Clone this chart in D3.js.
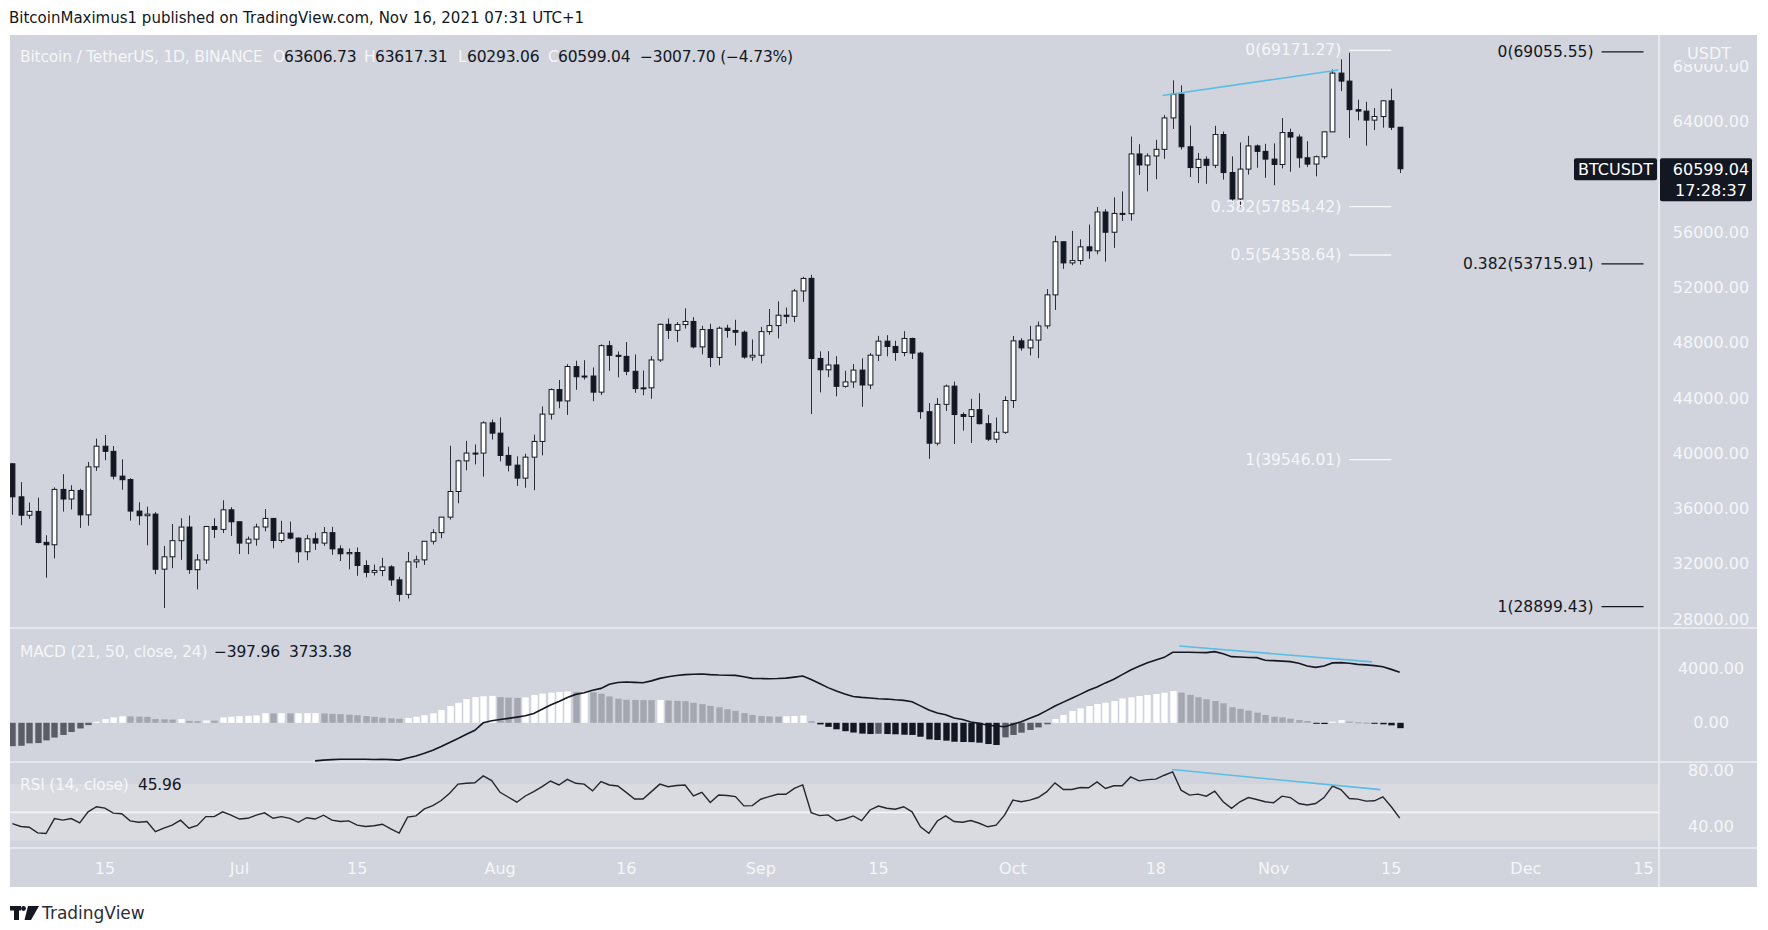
<!DOCTYPE html>
<html>
<head>
<meta charset="utf-8">
<script src="https://cdn.jsdelivr.net/npm/d3@7"></script>
<style>
html, body { margin: 0; padding: 0; background: #fff; }
svg { display: block; }
</style>
</head>
<body>
<svg id="chart" width="1768" height="930"></svg>
<script>
// ---- data (BTCUSDT 1D, Jun 4 - Nov 16 2021) ----
var days = d3.utcDay.range(new Date(Date.UTC(2021, 5, 4)), new Date(Date.UTC(2021, 10, 17)));

var opens = [
  39242, 36851, 35520, 35796, 33556, 33380, 37389, 36694, 37313, 35546,
  39020, 40516, 40143, 38349, 38099, 35820, 35484, 35601, 31614, 32509,
  33675, 34663, 31577, 32283, 34702, 34495, 35912, 35045, 33502, 33786,
  34668, 35288, 33690, 34220, 33863, 32876, 33815, 33502, 34259, 33086,
  32729, 32820, 31874, 31384, 31521, 31779, 30839, 29790, 32144, 32287,
  33635, 34261, 35381, 37237, 39456, 40019, 40018, 42207, 41461, 39850,
  39146, 38207, 39723, 40862, 42836, 44614, 43794, 46280, 45543, 45596,
  44429, 47793, 47097, 47019, 45937, 44686, 44741, 46760, 49339, 48905,
  49322, 49546, 47707, 48960, 46942, 49058, 48897, 48768, 46970, 47100,
  48810, 49247, 50000, 49918, 51756, 52666, 46868, 46048, 46396, 44851,
  45171, 46025, 44947, 47103, 48121, 47737, 47300, 48314, 47255, 43015,
  40734, 43546, 44866, 42810, 42670, 43160, 42147, 41025, 41524, 43820,
  48142, 47634, 48200, 49225, 51471, 55315, 53785, 53955, 54949, 54659,
  57471, 56006, 57370, 57347, 61672, 60876, 61528, 62006, 64280, 66001,
  62193, 60688, 61286, 60852, 63079, 60329, 58413, 60575, 62253, 61859,
  61300, 60911, 63220, 62897, 61396, 60940, 61471, 63273, 67525, 66947,
  64882, 64774, 64122, 64380, 65519, 63606.73
];
var highs = [
  39289, 37917, 36436, 36790, 34068, 37534, 38491, 37690, 37439, 39380,
  41064, 41330, 40528, 39559, 38200, 36457, 36137, 35741, 33298, 34881,
  35298, 35500, 32700, 34749, 35297, 36600, 36100, 35057, 33977, 34909,
  35967, 35293, 35118, 35059, 33913, 34100, 34262, 34666, 34679, 33340,
  33114, 33185, 32249, 31950, 32435, 31899, 31063, 32859, 32591, 33650,
  34500, 35398, 40550, 39542, 40900, 40640, 42316, 42448, 42599, 40480,
  39780, 39969, 41350, 43392, 44700, 45310, 46454, 46700, 46743, 46218,
  47886, 48144, 47372, 48053, 47160, 46000, 47033, 49382, 49757, 49500,
  50500, 49860, 49230, 49380, 49185, 49309, 49667, 48888, 48246, 49156,
  50450, 51000, 50558, 51900, 52780, 52920, 47381, 47400, 47033, 45980,
  46460, 46876, 47250, 48500, 48557, 48150, 48843, 48372, 47346, 43639,
  44000, 44978, 45200, 42966, 43950, 44350, 42787, 42590, 44132, 48495,
  48336, 49228, 49536, 51886, 55750, 55332, 56100, 55489, 56561, 57839,
  57680, 58532, 58960, 62933, 62378, 61718, 62695, 64486, 67000, 66639,
  63732, 61747, 61500, 63710, 63293, 61496, 62499, 62980, 62359, 62405,
  62437, 64270, 63500, 63086, 62595, 61560, 63286, 67789, 68524, 69000,
  65600, 65450, 64990, 65550, 66401, 63617.31
];
var lows = [
  35555, 34800, 35258, 33480, 31000, 32396, 35782, 35936, 34600, 34757,
  38730, 39506, 38116, 37365, 35129, 34803, 33336, 31251, 28805, 31683,
  32286, 31275, 30151, 32000, 33862, 34225, 34017, 32711, 32700, 33316,
  34357, 33125, 33532, 33777, 32077, 32261, 33004, 33306, 32658, 32202,
  31600, 31133, 31020, 31164, 31108, 30407, 29278, 29482, 31708, 31924,
  33401, 33851, 35205, 36383, 38772, 39200, 38313, 41000, 39422, 38690,
  37642, 37508, 37332, 39853, 42446, 43261, 42779, 44600, 45341, 43770,
  44217, 45971, 45500, 45660, 44376, 44203, 43955, 46622, 48280, 48050,
  49029, 47600, 47163, 46250, 46364, 48371, 47801, 46853, 46700, 46513,
  48584, 48316, 49400, 49500, 50969, 42843, 44412, 45513, 44132, 44752,
  44742, 43371, 44650, 46682, 47021, 46699, 47033, 46829, 42500, 39600,
  40565, 43069, 40675, 41646, 40750, 42098, 40888, 40753, 41410, 43283,
  47430, 47088, 46891, 49022, 50382, 53357, 53617, 53661, 54080, 54415,
  53879, 54870, 56818, 56850, 60150, 58963, 59844, 61322, 63481, 62000,
  60000, 59562, 59510, 60650, 59817, 58000, 57820, 60174, 60673, 59945,
  59405, 60624, 60382, 60677, 60721, 60050, 61322, 63273, 66222, 62822,
  64100, 62278, 63400, 63577, 63400, 60293.06
];
var closes = [
  36852, 35520, 35797, 33553, 33380, 37389, 36693, 37313, 35546, 39020,
  40516, 40144, 38349, 38092, 35820, 35483, 35600, 31608, 32509, 33678,
  34663, 31584, 32283, 34700, 34494, 35911, 35045, 33504, 33786, 34669,
  35287, 33690, 34220, 33862, 32875, 33815, 33502, 34259, 33086, 32729,
  32820, 31880, 31383, 31520, 31778, 30839, 29790, 32144, 32287, 33634,
  34258, 35381, 37237, 39457, 40019, 40016, 42206, 41461, 39845, 39147,
  38207, 39723, 40862, 42836, 44614, 43792, 46285, 45543, 45595, 44428,
  47793, 47096, 47019, 45936, 44686, 44741, 46760, 49339, 48905, 49321,
  49546, 47706, 48960, 46942, 49058, 48897, 48767, 46970, 47100, 48810,
  49246, 49999, 49915, 51756, 52663, 46864, 46049, 46395, 44851, 45171,
  46026, 44947, 47105, 48121, 47737, 47300, 48315, 47255, 43016, 40734,
  43543, 44865, 42810, 42670, 43160, 42147, 41026, 41524, 43824, 48141,
  47634, 48200, 49224, 51471, 55315, 53785, 53951, 54949, 54659, 57471,
  56005, 57367, 57347, 61672, 60875, 61528, 62009, 64280, 66001, 62193,
  60688, 61286, 60852, 63078, 60328, 58413, 60575, 62253, 61859, 61299,
  60911, 63219, 62896, 61395, 60937, 61470, 63273, 67525, 66947, 64882,
  64774, 64122, 64380, 65519, 63606.73, 60599.04
];

// MACD (21, 50, close, 24) line; null where it sits below the pane
var macdLine = [
  null, null, null, null, null, null, null, null, null, null,
  null, null, null, null, null, null, null, null, null, null,
  null, null, null, null, null, null, null, null, null, null,
  null, null, null, null, null, null, -2816, -2760, -2720, -2700,
  -2690, -2700, -2700, -2710, -2700, -2720, -2760, -2600, -2450, -2250,
  -2025, -1750, -1450, -1160, -850, -550, 0, 150, 250, 330,
  420, 520, 690, 1000, 1310, 1580, 1877, 2100, 2223, 2400,
  2544, 2850, 2980, 3013, 2990, 2964, 3100, 3285, 3400, 3500,
  3560, 3590, 3606, 3560, 3532, 3520, 3507, 3400, 3285, 3270,
  3260, 3270, 3300, 3380, 3458, 3200, 2900, 2600, 2350, 2124,
  1950, 1877, 1830, 1780, 1754, 1700, 1660, 1560, 1250, 950,
  720, 600, 350, 240, 60, -40, -180, -240, -287, -100,
  84, 330, 578, 900, 1245, 1530, 1813, 2100, 2400, 2650,
  2950, 3221, 3560, 3902, 4180, 4446, 4650, 4841, 5212, 5212,
  5212, 5200, 5187, 5261, 5100, 4890, 4860, 4830, 4816, 4620,
  4594, 4560, 4520, 4400, 4199, 4100, 4200, 4430, 4446, 4400,
  4322, 4280, 4224, 4150, 3950, 3733.38
];
var macdHist = [
  -1730, -1700, -1520, -1500, -1300, -1090, -900, -680, -420, -170,
  80, 270, 400, 480, 470, 460, 440, 280, 260, 240,
  270, 140, 120, 170, 160, 400, 450, 490, 520, 550,
  710, 690, 710, 695, 705, 710, 715, 690, 660, 640,
  600, 560, 500, 440, 380, 330, 300, 350, 450, 560,
  700, 950, 1240, 1480, 1750, 1900, 1960, 1990, 1900, 1860,
  1840, 1880, 2060, 2160, 2230, 2280, 2310, 2290, 2300, 2260,
  2150, 1950, 1780, 1700, 1690, 1680, 1670, 1690, 1650, 1620,
  1600, 1480, 1380, 1250, 1150, 1000, 880, 720, 580, 500,
  470, 460, 480, 500, 540, 120, -120, -300, -480, -620,
  -720, -800, -830, -810, -830, -850, -880, -900, -1030, -1225,
  -1270, -1320, -1400, -1420, -1430, -1470, -1570, -1640, -1075, -900,
  -730, -530, -340, -110, 280, 580, 875, 1070, 1240, 1390,
  1490, 1610, 1800, 1880, 1980, 2060, 2130, 2230, 2350, 2230,
  2060, 1890, 1740, 1610, 1440, 1150, 1030, 900, 750, 580,
  450, 400, 300, 200, 130, -60, -90, 85, 200, 85,
  35, 10, -60, -110, -190, -397.96
];
var rsi = [
  42, 40, 39.5, 35.5, 35, 45.6, 44.5, 45.6, 42.5, 50.4,
  54, 53, 49.5, 49, 44, 43, 43.5, 36.4, 38.8, 41,
  44.5, 38.8, 40.7, 47, 47, 50.4, 48, 45.3, 45.8, 48,
  49.7, 45.8, 47, 45.8, 43, 46.2, 45.3, 48, 44.5, 43.5,
  44, 41, 40, 40.5, 41.6, 38.3, 35.3, 46.6, 47.5, 52.5,
  54.8, 58.4, 63.6, 70, 70.6, 71, 75.8, 72.5, 64.2, 60.7,
  57.2, 61.6, 64.7, 68.2, 72.2, 69.4, 73.4, 70.6, 70, 65.2,
  71.8, 69.4, 68.7, 64.2, 59.5, 59.5, 64.7, 70, 68.2, 69,
  69.4, 61.6, 64.2, 57, 62.3, 61.9, 61.2, 54.6, 54.8, 59.3,
  61.2, 62.8, 62.8, 67, 69.4, 49.8, 47.7, 48.2, 44, 45.3,
  47.5, 44.2, 51.7, 54.5, 52.9, 52.2, 54, 50.4, 39.8, 35.2,
  43.9, 47.5, 43.5, 43, 44.2, 42.3, 39.8, 41, 48, 58.7,
  57.5, 58.7, 60.5, 64.5, 70.9, 66.2, 66.2, 67.6, 67.4, 71.6,
  66.9, 68.8, 68.8, 75.1, 72.3, 73.2, 73.5, 76.3, 78.7, 65.7,
  62.2, 62.9, 61.5, 65, 57.5, 52.8, 57.5, 60.5, 59.1, 57.5,
  56.8, 61.5, 60.5, 56.3, 55.2, 56.3, 60.5, 68.6, 66.2, 59.8,
  59.4, 58, 58.2, 61, 54, 45.96
];

// visible price-axis labels (60000 sits under the last-price tag)
var priceTicks = [28000, 32000, 36000, 40000, 44000, 48000, 52000, 56000, 64000, 68000];
var macdTicks = [0, 4000];
var rsiTicks = [40, 80];
var timeTickDates = ['2021-06-15', '2021-07-01', '2021-07-15', '2021-08-01', '2021-08-16', '2021-09-01',
  '2021-09-15', '2021-10-01', '2021-10-18', '2021-11-01', '2021-11-15', '2021-12-01', '2021-12-15'];
var timeTickLabels = ['15', 'Jul', '15', 'Aug', '16', 'Sep', '15', 'Oct', '18', 'Nov', '15', 'Dec', '15'];

// fib retracement drawings
var fibLeftLevels = ['0', '0.382', '0.5', '1'];
var fibLeftPrices = [69171.27, 57854.42, 54358.64, 39546.01];
var fibLeftSpan = ['2021-11-10', '2021-11-15'];
var fibRightLevels = ['0', '0.382', '1'];
var fibRightPrices = [69055.55, 53715.91, 28899.43];
var fibRightSpan = ['2021-12-10', '2021-12-15'];

// trend lines [time, value]
var priceTrend = [['2021-10-18T19:00Z', 65900], ['2021-11-08T17:00Z', 67750]];
var macdTrend = [['2021-10-20T19:00Z', 5681], ['2021-11-12T17:00Z', 4504]];
var rsiTrend = [['2021-10-19T22:00Z', 80.3], ['2021-11-13T17:00Z', 66.1]];

var lastPrice = 60599.04;
var countdown = '17:28:37';

// ---- layout ----
var lp = {
    left: 10,
    right: 1757,
    axisX: 1659,
    top: 35,
    mainBottom: 628,
    macdBottom: 762,
    rsiBottom: 848,
    timeBottom: 887,
    bg: '#d1d4dc',
    band: '#d9dbe1',
    sep: '#edeef2',
    ink: '#131722',
    txt: '#f5f6f9',
    trend: '#5bbde4',
    font: '"DejaVu Sans", "Liberation Sans", sans-serif',
    fs: 16
};

var svg = d3.select('#chart').style('font-family', lp.font);

var x = d3.scaleUtc()
    .domain([new Date('2021-06-15'), new Date('2021-11-15')])
    .range([104.9, 1391.3]);
var y = d3.scaleLinear().domain([28000, 64000]).range([619.1, 121.8]);
var yM = d3.scaleLinear().domain([0, 4000]).range([722.8, 668.7]);
var yR = d3.scaleLinear().domain([40, 80]).range([826.5, 770.0]);

svg.append('rect').attr('width', 1768).attr('height', 930).attr('fill', '#fff');
svg.append('rect')
    .attr('x', lp.left).attr('y', lp.top)
    .attr('width', lp.right - lp.left).attr('height', lp.timeBottom - lp.top)
    .attr('fill', lp.bg);

var defs = svg.append('defs');
function clip(id, y0, y1) {
    defs.append('clipPath').attr('id', id)
        .append('rect')
        .attr('x', lp.left).attr('y', y0)
        .attr('width', lp.axisX - lp.left).attr('height', y1 - y0);
    return 'url(#' + id + ')';
}
var clipMain = clip('cMain', lp.top, lp.mainBottom);
var clipMacd = clip('cMacd', lp.mainBottom, lp.macdBottom);
var clipRsi = clip('cRsi', lp.macdBottom, lp.rsiBottom);

// RSI band + middle line
svg.append('rect')
    .attr('x', lp.left).attr('y', yR(70))
    .attr('width', lp.axisX - lp.left).attr('height', yR(30) - yR(70))
    .attr('fill', lp.band);
svg.append('line')
    .attr('x1', lp.left).attr('x2', lp.axisX)
    .attr('y1', yR(50)).attr('y2', yR(50))
    .attr('stroke', '#f3f4f7').attr('stroke-width', 1.6);

// separators
[lp.mainBottom, lp.macdBottom, lp.rsiBottom].forEach(function(sy) {
    svg.append('line')
        .attr('x1', lp.left).attr('x2', lp.right)
        .attr('y1', sy).attr('y2', sy)
        .attr('stroke', lp.sep).attr('stroke-width', 1.6);
});
svg.append('line')
    .attr('x1', lp.axisX).attr('x2', lp.axisX)
    .attr('y1', lp.top).attr('y2', lp.timeBottom)
    .attr('stroke', lp.sep).attr('stroke-width', 1.6);

// ---- candles ----
var gC = svg.append('g').attr('clip-path', clipMain);
var idx = d3.range(days.length);
gC.selectAll('line.wick').data(idx).enter().append('line')
    .attr('class', 'wick')
    .attr('x1', function(i) { return Math.round(x(days[i])) + 0.5; })
    .attr('x2', function(i) { return Math.round(x(days[i])) + 0.5; })
    .attr('y1', function(i) { return y(highs[i]); })
    .attr('y2', function(i) { return y(lows[i]); })
    .attr('stroke', '#2a2e39').attr('stroke-width', 1);
gC.selectAll('rect.body').data(idx).enter().append('rect')
    .attr('class', 'body')
    .attr('x', function(i) { return Math.round(x(days[i])) + 0.5 - 2.4; })
    .attr('width', 4.8)
    .attr('y', function(i) { return y(Math.max(opens[i], closes[i])); })
    .attr('height', function(i) { return Math.max(1, Math.abs(y(opens[i]) - y(closes[i]))); })
    .attr('fill', function(i) { return closes[i] >= opens[i] ? '#ffffff' : lp.ink; })
    .attr('stroke', lp.ink).attr('stroke-width', 1);

// ---- fib drawings ----
function drawFib(levels, prices, span, color, lineColor) {
    var g = svg.append('g');
    var x1 = x(new Date(span[0])), x2 = x(new Date(span[1]));
    prices.forEach(function(p, k) {
        g.append('line')
            .attr('x1', x1).attr('x2', x2)
            .attr('y1', y(p)).attr('y2', y(p))
            .attr('stroke', lineColor).attr('stroke-width', 1.3);
        g.append('text')
            .attr('x', x1 - 8).attr('y', y(p))
            .attr('text-anchor', 'end').attr('dominant-baseline', 'central')
            .attr('font-size', 15.5).attr('fill', color)
            .text(levels[k] + '(' + p.toFixed(2) + ')');
    });
}
drawFib(fibLeftLevels, fibLeftPrices, fibLeftSpan, lp.txt, '#f7f8fa');
drawFib(fibRightLevels, fibRightPrices, fibRightSpan, lp.ink, lp.ink);

// ---- trend lines ----
function trend(pts, ys) {
    svg.append('line')
        .attr('x1', x(new Date(pts[0][0]))).attr('y1', ys(pts[0][1]))
        .attr('x2', x(new Date(pts[1][0]))).attr('y2', ys(pts[1][1]))
        .attr('stroke', lp.trend).attr('stroke-width', 1.6);
}
trend(priceTrend, y);

// ---- MACD ----
var gM = svg.append('g').attr('clip-path', clipMacd);
function histColor(i) {
    var v = macdHist[i], p = i > 0 ? macdHist[i - 1] : v - 1;
    if (v >= 0) return v > p ? '#ffffff' : '#a4a7af';
    return v > p ? '#5a5d65' : lp.ink;
}
gM.selectAll('rect.h').data(idx).enter().append('rect')
    .attr('class', 'h')
    .attr('x', function(i) { return Math.round(x(days[i])) + 0.5 - 3.2; })
    .attr('width', 6.4)
    .attr('y', function(i) { return Math.min(yM(0), yM(macdHist[i])); })
    .attr('height', function(i) { return Math.max(1, Math.abs(yM(macdHist[i]) - yM(0))); })
    .attr('fill', histColor);
gM.append('path')
    .datum(idx)
    .attr('fill', 'none').attr('stroke', lp.ink).attr('stroke-width', 1.6)
    .attr('d', d3.line()
        .defined(function(i) { return macdLine[i] !== null; })
        .x(function(i) { return x(days[i]); })
        .y(function(i) { return yM(macdLine[i]); }));
trend(macdTrend, yM);

// ---- RSI ----
var gR = svg.append('g').attr('clip-path', clipRsi);
gR.append('path')
    .datum(idx)
    .attr('fill', 'none').attr('stroke', '#22262f').attr('stroke-width', 1.4)
    .attr('d', d3.line()
        .x(function(i) { return x(days[i]); })
        .y(function(i) { return yR(rsi[i]); }));
trend(rsiTrend, yR);

// ---- price axis labels ----
var axX = (lp.axisX + lp.right) / 2 + 3;
function axisLabels(ticks, ys, fmt) {
    svg.append('g').selectAll('text').data(ticks).enter().append('text')
        .attr('x', axX).attr('y', function(d) { return ys(d); })
        .attr('text-anchor', 'middle').attr('dominant-baseline', 'central')
        .attr('font-size', lp.fs).attr('fill', lp.txt)
        .text(fmt);
}
axisLabels(priceTicks, y, function(d) { return d.toFixed(2); });
axisLabels(macdTicks, yM, function(d) { return d.toFixed(2); });
axisLabels(rsiTicks, yR, function(d) { return d.toFixed(2); });

// USDT unit label partly covering the top tick
svg.append('rect').attr('x', axX - 26).attr('y', 42).attr('width', 52).attr('height', 22).attr('fill', lp.bg);
svg.append('text')
    .attr('x', axX - 2).attr('y', 53)
    .attr('text-anchor', 'middle').attr('dominant-baseline', 'central')
    .attr('font-size', lp.fs).attr('fill', lp.txt).text('USDT');

// last price tags
var yl = y(lastPrice);
svg.append('rect').attr('x', 1574).attr('y', yl - 10.5).attr('width', 83).attr('height', 22)
    .attr('rx', 2).attr('fill', lp.ink);
svg.append('text').attr('x', 1615.5).attr('y', yl + 0.5)
    .attr('text-anchor', 'middle').attr('dominant-baseline', 'central')
    .attr('font-size', lp.fs).attr('fill', '#fff').text('BTCUSDT');
svg.append('rect').attr('x', lp.axisX + 1).attr('y', yl - 10.5).attr('width', 92).attr('height', 43)
    .attr('rx', 2).attr('fill', lp.ink);
svg.append('text').attr('x', axX).attr('y', yl + 0.5)
    .attr('text-anchor', 'middle').attr('dominant-baseline', 'central')
    .attr('font-size', lp.fs).attr('fill', '#fff').text(lastPrice.toFixed(2));
svg.append('text').attr('x', axX).attr('y', yl + 21.5)
    .attr('text-anchor', 'middle').attr('dominant-baseline', 'central')
    .attr('font-size', lp.fs).attr('fill', '#fff').text(countdown);

// ---- time axis ----
svg.append('g').selectAll('text').data(timeTickDates).enter().append('text')
    .attr('x', function(d) { return x(new Date(d)); })
    .attr('y', 868)
    .attr('text-anchor', 'middle').attr('dominant-baseline', 'central')
    .attr('font-size', lp.fs).attr('fill', lp.txt)
    .text(function(d, k) { return timeTickLabels[k]; });

// ---- legends (parts: text, colour, x) ----
function legend(yy, parts) {
    var t = svg.append('text').attr('y', yy)
        .attr('dominant-baseline', 'central').attr('font-size', 15.5)
        .attr('letter-spacing', -0.2);
    parts.forEach(function(p) {
        t.append('tspan').attr('x', p[2]).attr('fill', p[1]).text(p[0]);
    });
}
legend(56.5, [
    ['Bitcoin / TetherUS, 1D, BINANCE', lp.txt, 20],
    ['O', lp.txt, 273], [opens[165].toFixed(2), lp.ink, 284],
    ['H', lp.txt, 364], [highs[165].toFixed(2), lp.ink, 375],
    ['L', lp.txt, 458], [lows[165].toFixed(2), lp.ink, 467],
    ['C', lp.txt, 548], [closes[165].toFixed(2), lp.ink, 558],
    ['\u22123007.70 (\u22124.73%)', lp.ink, 640]
]);
legend(652, [
    ['MACD (21, 50, close, 24)', lp.txt, 20],
    ['\u2212397.96', lp.ink, 214],
    ['3733.38', lp.ink, 289]
]);
legend(785, [
    ['RSI (14, close)', lp.txt, 20],
    ['45.96', lp.ink, 138]
]);

// ---- header / footer ----
svg.append('text').attr('x', 9).attr('y', 18)
    .attr('dominant-baseline', 'central').attr('font-size', 15).attr('fill', lp.ink)
    .text('BitcoinMaximus1 published on TradingView.com, Nov 16, 2021 07:31 UTC+1');

var logo = svg.append('g').attr('fill', lp.ink);
logo.append('rect').attr('x', 10).attr('y', 906).attr('width', 11).attr('height', 4.5);
logo.append('rect').attr('x', 14).attr('y', 906).attr('width', 5).attr('height', 14);
logo.append('circle').attr('cx', 23.5).attr('cy', 908.5).attr('r', 2.4);
logo.append('polygon').attr('points', '28,906 39,906 31,920 24.5,920');
svg.append('text').attr('x', 42).attr('y', 913)
    .attr('dominant-baseline', 'central').attr('font-size', 17).attr('fill', '#2a2e39')
    .text('TradingView');
</script>
</body>
</html>
